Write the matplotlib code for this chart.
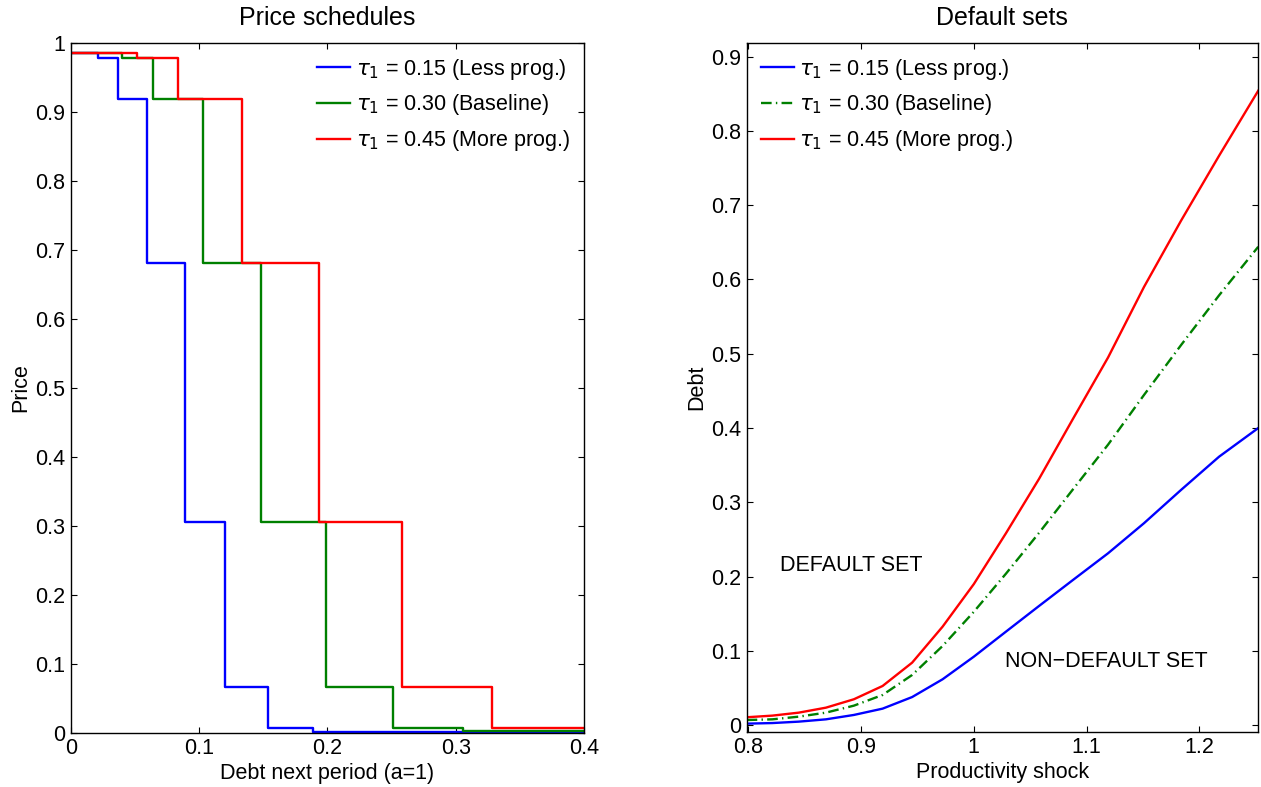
import matplotlib
matplotlib.use("Agg")
import matplotlib.pyplot as plt

plt.rcParams['font.family'] = ['Liberation Sans', 'DejaVu Sans']
plt.rcParams['mathtext.fontset'] = 'dejavusans'

# ---------------- Left panel: price schedules (step functions) ----------------
blue_debt = [0.0, 0.0213, 0.0364, 0.0595, 0.0889, 0.1200, 0.1538, 0.1890, 0.4]
blue_price = [0.985, 0.978, 0.918, 0.681, 0.305, 0.0667, 0.0075, 0.0015, 0.0015]

green_debt = [0.0, 0.0395, 0.0642, 0.1026, 0.1478, 0.1985, 0.2512, 0.3058, 0.4]
green_price = [0.985, 0.978, 0.918, 0.681, 0.305, 0.0667, 0.0075, 0.0020, 0.0020]

red_debt = [0.0, 0.0517, 0.0837, 0.1335, 0.1931, 0.2580, 0.3280, 0.4]
red_price = [0.985, 0.978, 0.918, 0.681, 0.305, 0.0667, 0.0075, 0.0075]

# ---------------- Right panel: default sets ----------------
shock = [0.7985, 0.8213, 0.8447, 0.8688, 0.8936, 0.9191, 0.9453, 0.9723, 1.0000,
         1.0285, 1.0579, 1.0880, 1.1191, 1.1510, 1.1838, 1.2176, 1.2523]
debt_less = [0.0022, 0.0030, 0.0049, 0.0080, 0.0139, 0.0224, 0.0380, 0.0619, 0.0923,
             0.1260, 0.1606, 0.1956, 0.2315, 0.2720, 0.3167, 0.3615, 0.4000]
debt_base = [0.0071, 0.0080, 0.0116, 0.0170, 0.0264, 0.0408, 0.0677, 0.1067, 0.1527,
             0.2040, 0.2590, 0.3176, 0.3777, 0.4446, 0.5116, 0.5787, 0.6440]
debt_more = [0.0108, 0.0130, 0.0170, 0.0237, 0.0350, 0.0529, 0.0843, 0.1327, 0.1900,
             0.2584, 0.3317, 0.4125, 0.4950, 0.5900, 0.6790, 0.7666, 0.8540]

labels = [r'$\tau_1$ = 0.15 (Less prog.)',
          r'$\tau_1$ = 0.30 (Baseline)',
          r'$\tau_1$ = 0.45 (More prog.)']
BLUE, GREEN, RED = '#0000FF', '#008000', '#FF0000'

left_xticks = [0, 0.1, 0.2, 0.3, 0.4]
left_xticklabels = ['0', '0.1', '0.2', '0.3', '0.4']
left_yticks = [0, 0.1, 0.2, 0.3, 0.4, 0.5, 0.6, 0.7, 0.8, 0.9, 1.0]
left_yticklabels = ['0', '0.1', '0.2', '0.3', '0.4', '0.5', '0.6', '0.7', '0.8', '0.9', '1']
right_xticks = [0.8, 0.9, 1.0, 1.1, 1.2]
right_xticklabels = ['0.8', '0.9', '1', '1.1', '1.2']
right_yticks = [0, 0.1, 0.2, 0.3, 0.4, 0.5, 0.6, 0.7, 0.8, 0.9]
right_yticklabels = ['0', '0.1', '0.2', '0.3', '0.4', '0.5', '0.6', '0.7', '0.8', '0.9']

FS = 15.5
TFS = 18

fig = plt.figure(figsize=(12.61, 7.87), dpi=100)
ax1 = fig.add_axes([0.0563, 0.0690, 0.4068, 0.8767])
ax2 = fig.add_axes([0.5921, 0.0703, 0.4057, 0.8755])

lw = 1.7
leg_kw = dict(frameon=False, fontsize=FS, handlelength=1.55, handletextpad=0.25,
              labelspacing=0.5, borderaxespad=0.25)

ax1.plot(blue_debt, blue_price, drawstyle='steps-post', color=BLUE, lw=lw, label=labels[0])
ax1.plot(green_debt, green_price, drawstyle='steps-post', color=GREEN, lw=lw, label=labels[1])
ax1.plot(red_debt, red_price, drawstyle='steps-post', color=RED, lw=lw, label=labels[2])
ax1.set_xlim(0, 0.4)
ax1.set_ylim(0, 1)
ax1.set_xticks(left_xticks)
ax1.set_xticklabels(left_xticklabels)
ax1.set_yticks(left_yticks)
ax1.set_yticklabels(left_yticklabels)
ax1.set_title('Price schedules', fontsize=TFS, pad=13)
ax1.set_xlabel('Debt next period (a=1)', fontsize=FS, labelpad=3)
ax1.set_ylabel('Price', fontsize=FS, labelpad=3)
ax1.legend(loc='upper right', **leg_kw)

ax2.plot(shock, debt_less, color=BLUE, lw=lw, label=labels[0])
ax2.plot(shock, debt_base, color=GREEN, lw=lw, label=labels[1],
         dashes=[4.5, 1.8, 0.6, 1.8])
ax2.plot(shock, debt_more, color=RED, lw=lw, label=labels[2])
ax2.set_xlim(0.7985, 1.2523)
ax2.set_ylim(-0.0086, 0.9187)
ax2.set_xticks(right_xticks)
ax2.set_xticklabels(right_xticklabels)
ax2.set_yticks(right_yticks)
ax2.set_yticklabels(right_yticklabels)
ax2.set_title('Default sets', fontsize=TFS, pad=13)
ax2.set_xlabel('Productivity shock', fontsize=FS, labelpad=3)
ax2.set_ylabel('Debt', fontsize=FS, labelpad=3)
ax2.legend(loc='upper left', **leg_kw)
ax2.text(0.828, 0.2157, 'DEFAULT SET', fontsize=FS, va='center', ha='left')
ax2.text(1.0276, 0.0865, 'NON\u2212DEFAULT SET', fontsize=FS, va='center', ha='left')

for ax in (ax1, ax2):
    ax.tick_params(direction='in', top=True, right=True, length=4.5, width=0.8,
                   labelsize=FS, pad=4)
    for s in ax.spines.values():
        s.set_linewidth(1.0)

fig.savefig('out.png', dpi=100)
